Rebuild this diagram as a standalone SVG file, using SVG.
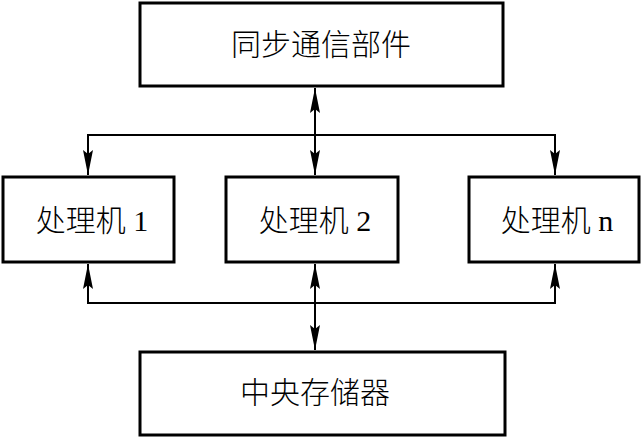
<svg xmlns="http://www.w3.org/2000/svg" width="642" height="437" viewBox="0 0 642 437">
<defs>
<style>
.box{fill:#fff;stroke:#000;stroke-width:3}
.t{font-family:"Liberation Serif","Noto Sans CJK SC",serif;font-size:30px;font-weight:300;fill:#000;text-anchor:middle;dominant-baseline:central}
.ln{fill:none;stroke:#000;stroke-width:2}
</style>
<marker id="ah" viewBox="0 0 25 10" refX="25" refY="5" markerWidth="25" markerHeight="10" markerUnits="userSpaceOnUse" orient="auto-start-reverse">
<path d="M0,0 L25,5 L0,10 L4,5 Z" fill="#000"/>
</marker>
</defs>
<g id="sync"><rect class="box" x="140" y="3" width="363" height="83"/><text class="t" x="321" y="44">同步通信部件</text></g>
<g id="p1"><rect class="box" x="3" y="177" width="171" height="85"/><text class="t" x="92" y="220">处理机 1</text></g>
<g id="p2"><rect class="box" x="226" y="177" width="172" height="85"/><text class="t" x="315" y="220">处理机 2</text></g>
<g id="pn"><rect class="box" x="469" y="177" width="170" height="85"/><text class="t" x="557" y="220">处理机 n</text></g>
<g id="mem"><rect class="box" x="140" y="352" width="365" height="83"/><text class="t" x="315" y="392">中央存储器</text></g>
<g id="connectors">
<line class="ln" x1="315" y1="88" x2="315" y2="175" marker-start="url(#ah)" marker-end="url(#ah)"/>
<polyline class="ln" points="88,175 88,135 555,135 555,175" marker-start="url(#ah)" marker-end="url(#ah)"/>
<line class="ln" x1="315" y1="264" x2="315" y2="350" marker-start="url(#ah)" marker-end="url(#ah)"/>
<polyline class="ln" points="88,264 88,303 555,303 555,264" marker-start="url(#ah)" marker-end="url(#ah)"/>
</g>
</svg>
